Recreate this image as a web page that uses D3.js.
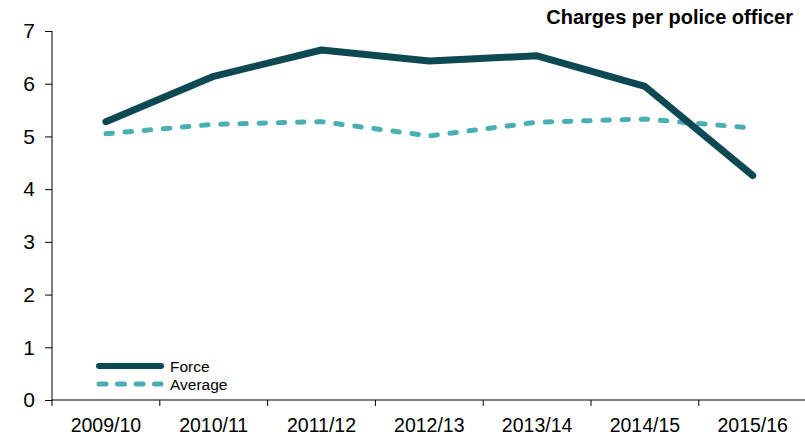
<!DOCTYPE html>
<html>
<head>
<meta charset="utf-8">
<script src="https://cdn.jsdelivr.net/npm/d3@7/dist/d3.min.js"></script>
<style>
  html, body { margin: 0; padding: 0; background: #fff; }
  svg { display: block; font-family: "Liberation Sans", Arial, sans-serif; }
</style>
</head>
<body>
<svg id="chart" width="805" height="438"></svg>
<script>
// Charges per police officer, force vs. average
const years = ["2009/10", "2010/11", "2011/12", "2012/13", "2013/14", "2014/15", "2015/16"];
const forceValues = [5.28, 6.14, 6.64, 6.43, 6.53, 5.95, 4.26];
const averageValues = [5.05, 5.23, 5.28, 5.01, 5.27, 5.33, 5.16];
const yTicks = [0, 1, 2, 3, 4, 5, 6, 7];
const titleText = "Charges per police officer";
const seriesNames = ["Force", "Average"];

const forceColor = "#0d4952";
const averageColor = "#4aafb3";

const svg = d3.select("#chart");
const margin = { left: 52, top: 31, bottom: 38 };
const width = 805, height = 438;
const plotRight = margin.left + 7 * 107.8;

const x = d3.scaleBand().domain(years).range([margin.left, plotRight]).paddingInner(0).paddingOuter(0);
const y = d3.scaleLinear().domain([0, 7]).range([400, margin.top]);

// y axis
const yAxis = svg.append("g")
  .attr("transform", `translate(${margin.left},0)`)
  .call(d3.axisLeft(y).tickValues(yTicks).tickSize(7).tickPadding(10).tickFormat(d3.format("d")));
yAxis.selectAll("text").attr("font-size", 21).attr("fill", "#000").attr("font-family", "Liberation Sans, Arial, sans-serif");
yAxis.selectAll("line, path").attr("stroke", "#000");
yAxis.select(".domain").attr("d", `M0,${y(7)}V${y(0)}`);

// x axis with ticks on band boundaries
const xAxisG = svg.append("g").attr("transform", `translate(0,${y(0)})`);
xAxisG.append("line")
  .attr("x1", margin.left).attr("x2", width)
  .attr("stroke", "#000");
const boundaries = years.map(d => x(d)).concat([plotRight]);
xAxisG.selectAll("line.tick")
  .data(boundaries)
  .join("line")
  .attr("class", "tick")
  .attr("x1", d => d).attr("x2", d => d)
  .attr("y1", 0).attr("y2", 6)
  .attr("stroke", "#000");
xAxisG.selectAll("text")
  .data(years)
  .join("text")
  .attr("x", d => x(d) + x.bandwidth() / 2)
  .attr("y", 31.5)
  .attr("text-anchor", "middle")
  .attr("font-size", 19.5)
  .attr("fill", "#000")
  .text(d => d);

const line = d3.line()
  .x((d, i) => x(years[i]) + x.bandwidth() / 2)
  .y(d => y(d));

svg.append("path")
  .datum(averageValues)
  .attr("d", line)
  .attr("fill", "none")
  .attr("stroke", averageColor)
  .attr("stroke-width", 5)
  .attr("stroke-linecap", "round")
  .attr("stroke-linejoin", "round")
  .attr("stroke-dasharray", "6.5,12.7");

svg.append("path")
  .datum(forceValues)
  .attr("d", line)
  .attr("fill", "none")
  .attr("stroke", forceColor)
  .attr("stroke-width", 7)
  .attr("stroke-linecap", "round")
  .attr("stroke-linejoin", "round");

// Title
svg.append("text")
  .attr("x", 793)
  .attr("y", 24)
  .attr("text-anchor", "end")
  .attr("font-weight", "bold")
  .attr("font-size", 20)
  .attr("fill", "#000")
  .text(titleText);

// Legend
const legend = svg.append("g");
const legendRows = [
  { name: seriesNames[0], color: forceColor, width: 6, dash: null, y: 366 },
  { name: seriesNames[1], color: averageColor, width: 5, dash: "7,11.5", y: 384 }
];
legendRows.forEach(r => {
  legend.append("line")
    .attr("x1", 99).attr("x2", 161)
    .attr("y1", r.y).attr("y2", r.y)
    .attr("stroke", r.color)
    .attr("stroke-width", r.width)
    .attr("stroke-linecap", "round")
    .attr("stroke-dasharray", r.dash);
  legend.append("text")
    .attr("x", 170)
    .attr("y", r.y + 5.5)
    .attr("font-size", 15.5)
    .attr("fill", "#000")
    .text(r.name);
});
</script>
</body>
</html>
